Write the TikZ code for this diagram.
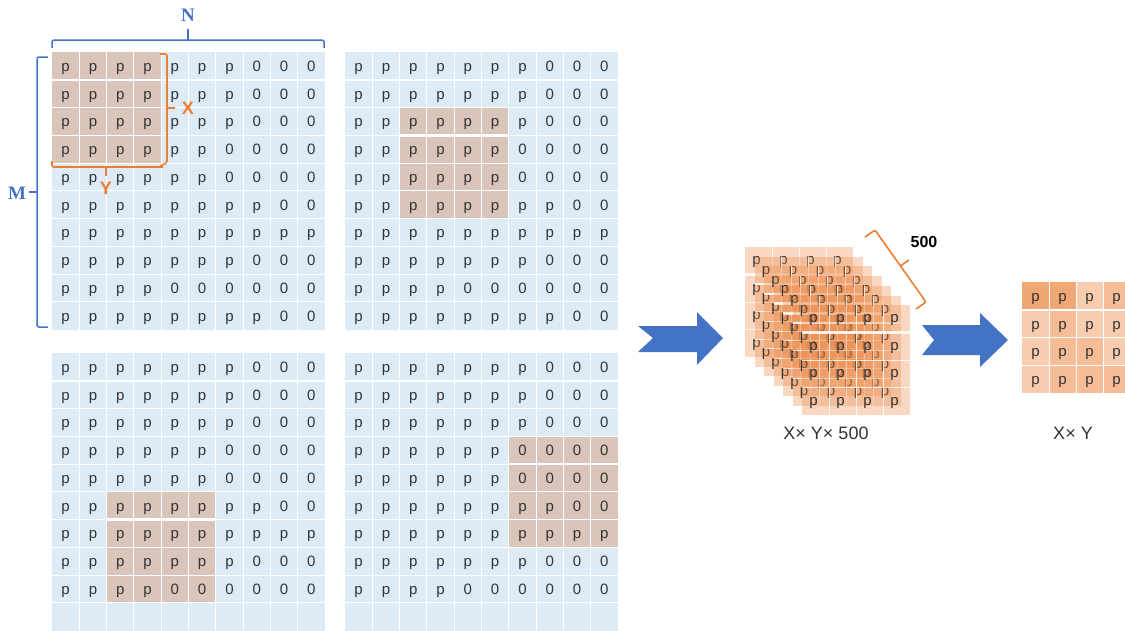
\documentclass[tikz,border=0pt]{standalone}
\usepackage{fontspec}
\setmainfont{Liberation Sans}
\newfontfamily\serifb{Liberation Serif}
\definecolor{gridbg}{HTML}{DDEBF7}
\definecolor{hlbg}{HTML}{D9C5BA}
\definecolor{txtgray}{HTML}{333333}
\definecolor{bracebl}{HTML}{4472C4}
\definecolor{braceor}{HTML}{ED7D31}
\definecolor{arrowbl}{HTML}{4472C4}
\definecolor{layeror}{HTML}{ED8E4F}
\definecolor{dk}{HTML}{F1A676}
\definecolor{md}{HTML}{F5BC95}
\definecolor{lt}{HTML}{F8CDAF}
\tikzset{
  cellt/.style={font=\fontsize{15}{15}\selectfont, text=txtgray, anchor=base, inner sep=0pt},
  stackt/.style={font=\fontsize{15}{15}\selectfont, text=txtgray, anchor=base, inner sep=0pt},
  thinw/.style={draw=white, line width=0.9pt},
  thickw/.style={draw=white, line width=2.5pt},
  bluebrace/.style={draw=bracebl, line width=1.5pt, rounded corners=2pt},
  orbrace/.style={draw=braceor, line width=1.6pt, rounded corners=2pt},
  bigarrow/.style={fill=arrowbl, draw=none},
  caption/.style={font=\fontsize{18}{18}\selectfont, text=txtgray},
  bluelbl/.style={font=\serifb\bfseries\fontsize{19}{19}\selectfont, text=bracebl},
  orlbl/.style={font=\bfseries\fontsize{18}{18}\selectfont, text=braceor},
}
\def\cw{27.3}
\def\ch{27.75}
\def\gdata{{p,p,p,p,p,p,p,0,0,0},{p,p,p,p,p,p,p,0,0,0},{p,p,p,p,p,p,p,0,0,0},{p,p,p,p,p,p,0,0,0,0},{p,p,p,p,p,p,0,0,0,0},{p,p,p,p,p,p,p,p,0,0},{p,p,p,p,p,p,p,p,p,p},{p,p,p,p,p,p,p,0,0,0},{p,p,p,p,0,0,0,0,0,0},{p,p,p,p,p,p,p,p,0,0}}
% #1 name, #2 x0, #3 y0, #4 highlight column, #5 highlight row, #6 filled rows
\newcommand{\drawgrid}[6]{%
  \fill[gridbg] (#2,#3) rectangle ++(10*\cw,10*\ch);
  \fill[hlbg] ({#2+(#4-1)*\cw},{#3+(#5-1)*\ch}) rectangle ++(4*\cw,4*\ch);
  \foreach \i in {1,...,9} {
    \draw[thinw] ({#2+\i*\cw},#3) -- ++(0,10*\ch);
    \draw[thinw] (#2,{#3+\i*\ch}) -- ++(10*\cw,0);
  }
  \draw[thickw] (#2,{#3+\ch}) -- ++(10*\cw,0);
  \draw[thickw] ({#2+(#4-1)*\cw},{#3+#5*\ch}) -- ++(4*\cw,0);
  \foreach \row [count=\r] in \gdata {
    \ifnum\r>#6\relax\else
      \foreach \v [count=\c] in \row {
        \node[cellt] (#1-\r-\c) at ({#2+(\c-0.5)*\cw},{#3+(\r-0.5)*\ch+5.5}) {\v};
      }
    \fi
  }
}
\begin{document}
\begin{tikzpicture}[x=1pt,y=-1pt]
\useasboundingbox (0,0) rectangle (1125,630);
\clip (0,0) rectangle (1125,630);

% four grids
\drawgrid{ga}{52}{52}{1}{1}{10}
\drawgrid{gb}{345}{52}{3}{3}{10}
\drawgrid{gc}{52}{353}{3}{6}{9}
\drawgrid{gd}{345}{353}{7}{4}{9}

% braces on first grid
\draw[bluebrace] (52,48) |- (324,40) -- (324,48);
\draw[bluebrace] (188,40) -- (188,29);
\node[bluelbl] (lblN) at (188,15) {N};
\draw[bluebrace] (48,57) -| (37,327) -- (48,327);
\draw[bluebrace] (37,192) -- (29,192);
\node[bluelbl] (lblM) at (17,193) {M};

\draw[orbrace] (160,54) -| (167,163) -- (160,166);
\draw[orbrace] (167,108) -- (175,108);
\node[orlbl] (lblX) at (188,108) {X};
\draw[orbrace] (52,161) |- (163,167);
\draw[orbrace] (106,167) -- (106,176);
\node[orlbl] (lblY) at (106,188) {Y};

% arrows
\fill[bigarrow] (638,326) -- (697,326) -- (697,312) -- (723,338) -- (697,365) -- (697,352) -- (638,352) -- (653,338) -- cycle;
\fill[bigarrow] (922,325) -- (980,325) -- (980,313) -- (1008,340) -- (980,367) -- (980,355) -- (922,355) -- (934,340) -- cycle;

% stack of 7 layers
\foreach \k in {0,...,6} {
  \begin{scope}[shift={({745+9.5*\k},{247+9.7*\k})}]
    \fill[layeror, fill opacity=0.35] (0,0) rectangle (108,110);
    \foreach \i in {1,2,3} {
      \draw[thinw, draw opacity=0.8] ({\i*27},0) -- ++(0,110);
      \draw[thinw, draw opacity=0.8] (0,{\i*27.5}) -- ++(108,0);
    }
    \draw[thickw, draw opacity=0.8] (0,27.5) -- ++(108,0);
    \foreach \r in {1,...,4} {
      \foreach \c in {1,...,4} {
        \node[stackt] (s\k-\r-\c) at ({(\c-0.5)*27-2},{(\r-0.5)*27.5+4}) {p};
      }
    }
  \end{scope}
}
\draw[orbrace] (865,237) -- (875,230) -- (926,302) -- (916,309);
\draw[orbrace] (900.5,266) -- (909,260);
\node[font=\bfseries\fontsize{16}{16}\selectfont, text=black] (lbl500) at (924,242) {500};
\node[caption] (capA) at (826,433) {X× Y× 500};

% final grid
\foreach \row [count=\r] in {{dk,dk,lt,md},{lt,md,lt,lt},{lt,md,md,lt},{lt,md,md,md}} {
  \foreach \col [count=\c] in \row {
    \fill[\col] ({1022+(\c-1)*27},{282+(\r-1)*27.75}) rectangle ++(27,27.75);
  }
}
\foreach \i in {1,2,3} {
  \draw[thinw] ({1022+\i*27},282) -- ++(0,111);
  \draw[thinw] (1022,{282+\i*27.75}) -- ++(108,0);
}
\draw[thickw] (1022,309.75) -- ++(108,0);
\foreach \r in {1,...,4} {
  \foreach \c in {1,...,4} {
    \node[cellt] (f-\r-\c) at ({1022+(\c-0.5)*27},{282+(\r-0.5)*27.75+5.5}) {p};
  }
}
\node[caption] (capB) at (1073,433) {X× Y};
\end{tikzpicture}
\end{document}
